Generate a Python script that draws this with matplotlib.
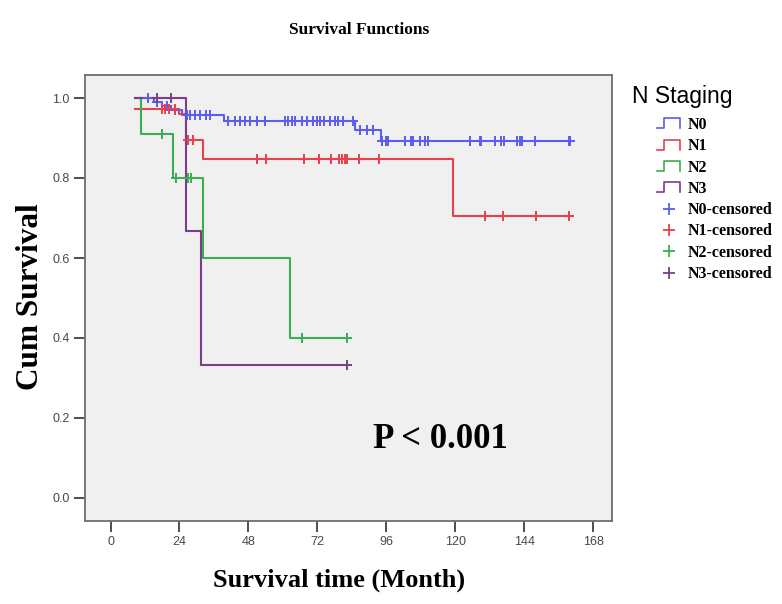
import numpy as np
import matplotlib
matplotlib.use("Agg")
import matplotlib.pyplot as plt
from matplotlib.lines import Line2D
from matplotlib.legend_handler import HandlerBase

# ---------------- data ----------------
groups = ["N0", "N1", "N2", "N3"]
colors = ["#5c5cf2", "#e8404c", "#3aae52", "#7b3d8c"]

# step change times (months) and survival after each change
n0_times = [8.5, 15.0, 18.0, 21.0, 25.0, 39.5, 85.0, 94.0]
n0_surv = [1.0, 0.99, 0.98, 0.97, 0.958, 0.943, 0.92, 0.893]
n0_end = 160.0
n0_cens = [13.0, 16.0, 19.5, 22.5, 26.5, 27.7, 29.4, 31.2, 33.2, 34.6, 41.0,
           43.3, 45.1, 46.8, 48.6, 50.9, 53.8, 60.8, 61.9, 63.1, 64.2, 66.6,
           68.5, 70.6, 72.0, 72.9, 74.3, 76.4, 78.2, 79.3, 81.1, 84.5, 86.9,
           89.2, 91.5, 94.4, 96.0, 96.7, 102.5, 104.5, 105.3, 107.8, 109.5,
           110.5, 125.2, 128.5, 129.0, 133.9, 136.0, 137.0, 141.5, 142.5,
           143.3, 147.8, 159.5, 160.0]

n1_times = [8.5, 24.0, 26.3, 32.3, 119.2]
n1_surv = [0.973, 0.96, 0.895, 0.847, 0.705]
n1_end = 159.5
n1_cens = [17.8, 19.0, 20.2, 22.5, 27.1, 28.8, 50.9, 54.0, 67.4, 72.7, 76.8,
           79.7, 80.5, 81.5, 82.2, 86.5, 93.3, 130.4, 136.8, 148.0, 159.5]

n2_times = [8.5, 10.5, 21.9, 32.3, 62.5]
n2_surv = [1.0, 0.91, 0.80, 0.60, 0.40]
n2_end = 82.2
n2_cens = [17.8, 22.8, 27.0, 27.9, 66.6, 82.2]

n3_times = [8.5, 26.2, 31.5]
n3_surv = [1.0, 0.667, 0.333]
n3_end = 82.2
n3_cens = [16.0, 21.0, 82.2]

x_ticks = [0, 24, 48, 72, 96, 120, 144, 168]
y_ticks = [0.0, 0.2, 0.4, 0.6, 0.8, 1.0]

series = [
    (n0_times, n0_surv, n0_end, n0_cens),
    (n1_times, n1_surv, n1_end, n1_cens),
    (n2_times, n2_surv, n2_end, n2_cens),
    (n3_times, n3_surv, n3_end, n3_cens),
]

# ---------------- figure ----------------
W, H = 782, 604
fig = plt.figure(figsize=(W / 100, H / 100), dpi=100)
fig.patch.set_facecolor("white")

ax = fig.add_axes([85 / W, (H - 521) / H, (612 - 85) / W, (521 - 75) / H])
ax.set_facecolor("#f0f0f0")

for (times, surv, end, cens), col in zip(series, colors):
    tx = list(times) + [end]
    sy = list(surv) + [surv[-1]]
    ax.step(tx, sy, where="post", color=col, lw=1.5, zorder=3)
    idx = np.searchsorted(np.asarray(times), np.asarray(cens), side="right") - 1
    cy = np.asarray(surv)[idx]
    ax.plot(cens, cy, ls="none", marker="+", ms=7, mew=1.4, color=col, zorder=4)

ax.set_xlim(-8.9, 174.6)
ax.set_ylim(-0.0575, 1.0575)
ax.set_xticks(x_ticks)
ax.set_yticks(y_ticks)
ax.set_xticklabels([str(t) for t in x_ticks])
ax.set_yticklabels([f"{v:.1f}" for v in y_ticks])
ax.tick_params(axis="both", direction="out", length=8, width=1.3,
               color="#404040", labelcolor="#484848", labelsize=9, pad=3)
for lab in ax.get_xticklabels() + ax.get_yticklabels():
    lab.set_fontfamily("Liberation Sans")
for sp in ax.spines.values():
    sp.set_color("#6e6e6e")
    sp.set_linewidth(1.3)

serif = "Liberation Serif"
fig.text(359 / W, 1 - 30 / H, "Survival Functions", ha="center", va="center",
         fontsize=12.5, fontweight="bold", family=serif)
fig.text(31 / W, 1 - 297 / H, "Cum Survival", ha="center", va="center",
         rotation=90, fontsize=22.5, fontweight="bold", family=serif)
fig.text(339 / W, 1 - 580 / H, "Survival time (Month)", ha="center", va="center",
         fontsize=19, fontweight="bold", family=serif)
ax.text(91.4, 0.145, "P < 0.001", ha="left", va="center", fontsize=25,
        fontweight="bold", family=serif)


# ---------------- legend ----------------
class StepHandler(HandlerBase):
    def create_artists(self, legend, orig_handle, xdescent, ydescent,
                       width, height, fontsize, trans):
        x0, y0 = -xdescent, -ydescent
        xs = [x0, x0 + 0.3 * width, x0 + 0.3 * width, x0 + width, x0 + width]
        ys = [y0, y0, y0 + height, y0 + height, y0]
        ln = Line2D(xs, ys, color=orig_handle.get_color(), lw=1.2, transform=trans)
        return [ln]


step_handles = [Line2D([], [], color=c) for c in colors]
cens_handles = [Line2D([], [], ls="none", marker="+", ms=8, mew=1.3, color=c)
                for c in colors]
handler_map = {h: StepHandler() for h in step_handles}
labels = groups + [g + "-censored" for g in groups]

fig.text(632 / W, 1 - 97 / H, "N Staging", ha="left", va="center",
         fontsize=16.5, family="Liberation Sans")
fig.legend(step_handles + cens_handles, labels, handler_map=handler_map,
           loc="upper left", bbox_to_anchor=(657 / W, 1 - 117 / H),
           frameon=False, borderpad=0, borderaxespad=0, handlelength=1.45,
           handleheight=0.6, handletextpad=0.5, labelspacing=0.33,
           prop={"family": serif, "weight": "bold", "size": 11.5})

fig.savefig("out.png", dpi=100)
